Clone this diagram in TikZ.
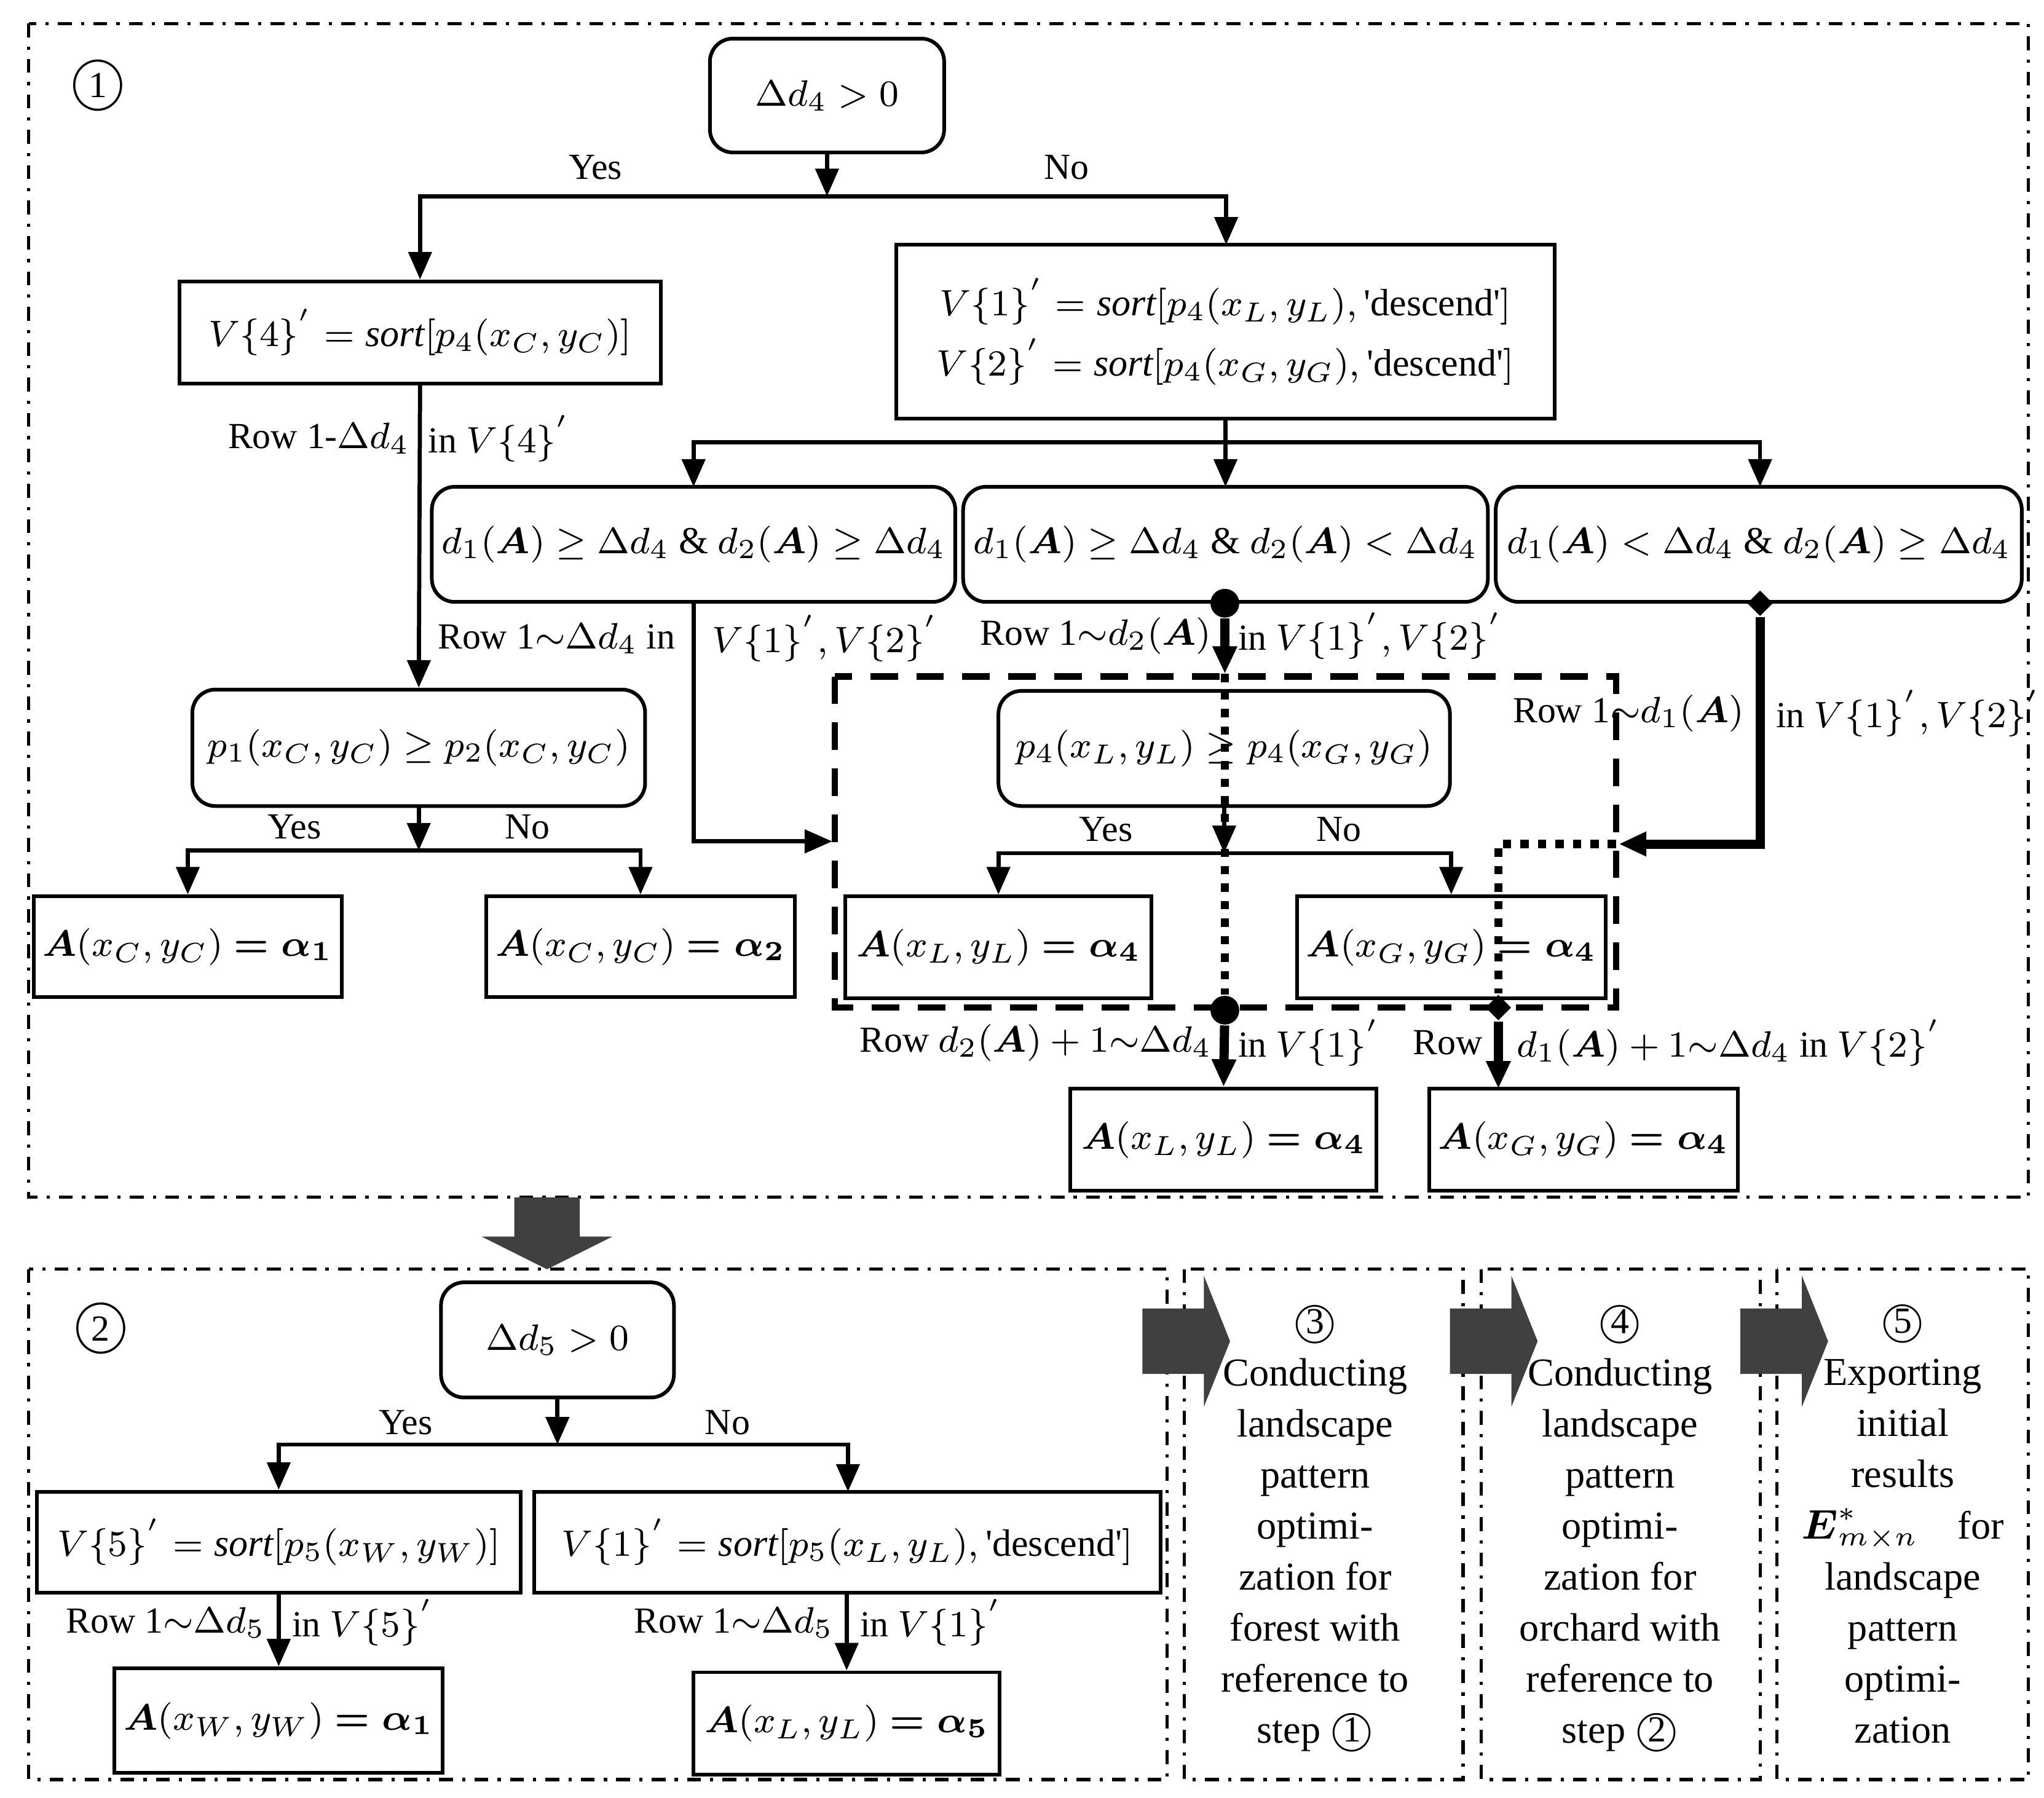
\documentclass[tikz,border=0pt]{standalone}
\usepackage{amsmath,amssymb}
\usepackage{fontspec}
\setmainfont{Liberation Serif}
\usetikzlibrary{arrows.meta,shapes.geometric}
\tikzset{
	% arrow tip
	>={Triangle[length=6pt,width=5pt]},
	% boxes
	box/.style={rectangle, draw=black, line width=0.8pt, inner sep=2pt, font=\fontsize{8.3}{10}\selectfont},
	rbox/.style={box, rounded corners=5pt},
	frame/.style={draw=black, line width=0.7pt, dash dot},
	arr/.style={->, line width=0.9pt},
	tarr/.style={->, line width=2pt},
	lbl/.style={font=\fontsize{8}{10}\selectfont, inner sep=1pt},
	txt/.style={font=\fontsize{8.6}{11.1}\selectfont, align=center},
	big/.style={fill=black!75, draw=none}
}
\newcommand{\bA}{\boldsymbol{A}}
\newcommand{\desc}{\text{\textquotesingle descend\textquotesingle}}
\begin{document}
\begin{tikzpicture}
\useasboundingbox (0,0) rectangle (15.62,-13.74);
% frames
\draw[frame] (0.22,-0.18) rectangle (15.5,-9.15);
\draw[frame] (0.22,-9.70) rectangle (8.92,-13.60);
\draw[frame] (9.05,-9.70) rectangle (11.18,-13.60);
\draw[frame] (11.32,-9.70) rectangle (13.45,-13.60);
\draw[frame] (13.58,-9.70) rectangle (15.5,-13.60);
\node[font=\fontsize{12}{12}\selectfont] (c1) at (0.75,-0.70) {\textcircled{\footnotesize 1}};
\node[font=\fontsize{12}{12}\selectfont] (c2) at (0.77,-10.20) {\textcircled{\footnotesize 2}};

% step 1
\node[rbox, minimum width=1.79cm, minimum height=0.87cm] (d4) at (6.32,-0.73) {$\Delta d_4>0$};
\node[box, minimum width=3.68cm, minimum height=0.78cm] (v4) at (3.21,-2.54) {$V\{4\}^{'}=\mathit{sort}[p_4(x_C,y_C)]$};
\node[box, minimum width=5.03cm, minimum height=1.33cm, align=center] (v12) at (9.365,-2.535)
	{$V\{1\}^{'}=\mathit{sort}[p_4(x_L,y_L),\desc]$\\[2pt]$V\{2\}^{'}=\mathit{sort}[p_4(x_G,y_G),\desc]$};
\draw[arr] (d4.south) -- (6.32,-1.50) coordinate (b1);
\draw[arr] (b1) -| (v4.north);
\draw[arr] (b1) -| (9.37,-1.87);
\node[lbl] (yes1) at (4.55,-1.28) {Yes};
\node[lbl] (no1) at (8.15,-1.28) {No};

\node[rbox, minimum width=4.0cm, minimum height=0.88cm] (ca) at (5.30,-4.16) {$d_1(\bA)\geq\Delta d_4\ \&\ d_2(\bA)\geq\Delta d_4$};
\node[rbox, minimum width=4.01cm, minimum height=0.88cm] (cb) at (9.365,-4.16) {$d_1(\bA)\geq\Delta d_4\ \&\ d_2(\bA)<\Delta d_4$};
\node[rbox, minimum width=4.02cm, minimum height=0.88cm] (cc) at (13.44,-4.16) {$d_1(\bA)<\Delta d_4\ \&\ d_2(\bA)\geq\Delta d_4$};
\draw[line width=0.9pt] (v12.south) -- (9.365,-3.38) coordinate (b2);
\draw[arr] (b2) -| (5.30,-3.72);
\draw[arr] (b2) -- (9.365,-3.72);
\draw[arr] (b2) -| (13.45,-3.72);

\node[rbox, minimum width=3.46cm, minimum height=0.89cm] (p1) at (3.20,-5.715) {$p_1(x_C,y_C)\geq p_2(x_C,y_C)$};
\draw[arr] (v4.south) -- (p1.north);
\node[lbl, anchor=east] (r1) at (3.17,-3.35) {Row 1-$\Delta d_4$};
\node[lbl, anchor=west] (r1b) at (3.23,-3.35) {in $V\{4\}^{'}$};
\node[box, minimum width=2.33cm, minimum height=0.77cm] (ac1) at (1.435,-7.235) {$\bA(x_C,y_C)\boldsymbol{=\alpha_1}$};
\node[box, minimum width=2.33cm, minimum height=0.77cm] (ac2) at (4.895,-7.235) {$\bA(x_C,y_C)\boldsymbol{=\alpha_2}$};
\draw[arr] (p1.south) -- (3.20,-6.50) coordinate (b3);
\draw[arr] (b3) -| (ac1.north);
\draw[arr] (b3) -| (ac2.north);
\node[lbl] (yes2) at (2.25,-6.32) {Yes};
\node[lbl] (no2) at (4.03,-6.32) {No};

% dashed region
\draw[line width=1.4pt, dash pattern=on 6pt off 4pt] (6.38,-5.17) rectangle (12.35,-7.70);
\node[rbox, minimum width=3.45cm, minimum height=0.88cm] (p4) at (9.355,-5.72) {$p_4(x_L,y_L)\geq p_4(x_G,y_G)$};
\node[box, minimum width=2.34cm, minimum height=0.78cm] (al4) at (7.63,-7.24) {$\bA(x_L,y_L)\boldsymbol{=\alpha_4}$};
\node[box, minimum width=2.34cm, minimum height=0.78cm] (ag4) at (11.09,-7.24) {$\bA(x_G,y_G)\boldsymbol{=\alpha_4}$};
\draw[arr] (p4.south) -- (9.355,-6.52) coordinate (b4);
\draw[arr] (b4) -| (al4.north);
\draw[arr] (b4) -| (ag4.north);
\node[lbl] (yes3) at (8.45,-6.34) {Yes};
\node[lbl] (no3) at (10.23,-6.34) {No};

% case a
\coordinate (ea) at (6.36,-6.43);
\draw[arr] (ca.south -| 5.30,0) -- (5.30,-6.43) -- (ea);
\node[lbl, anchor=east] (ra) at (5.20,-4.88) {Row 1$\sim$$\Delta d_4$ in};
\node[lbl, anchor=west] (rab) at (5.40,-4.88) {$V\{1\}^{'},V\{2\}^{'}$};

% case b
\node[circle, fill=black, inner sep=0pt, minimum size=0.22cm] (db1) at (9.36,-4.61) {};
\node[circle, fill=black, inner sep=0pt, minimum size=0.22cm] (db2) at (9.36,-7.72) {};
\draw[tarr] (db1) -- (9.36,-5.15);
\draw[line width=1.8pt, dotted] (9.36,-5.15) -- (db2);
\node[lbl, anchor=east] (rb) at (9.30,-4.86) {Row 1$\sim$$d_2(\bA)$};
\node[lbl, anchor=west] (rbb) at (9.42,-4.86) {in $V\{1\}^{'},V\{2\}^{'}$};
\node[box, minimum width=2.34cm, minimum height=0.78cm] (bl4) at (9.35,-8.71) {$\bA(x_L,y_L)\boldsymbol{=\alpha_4}$};
\draw[tarr] (db2) -- (bl4.north);
\node[lbl, anchor=east] (rc) at (9.30,-7.97) {Row $d_2(\bA)+1$$\sim$$\Delta d_4$};
\node[lbl, anchor=west] (rcb) at (9.42,-7.97) {in $V\{1\}^{'}$};

% case c
\node[diamond, fill=black, inner sep=0pt, minimum size=0.2cm] (dc1) at (13.45,-4.61) {};
\node[diamond, fill=black, inner sep=0pt, minimum size=0.2cm] (dc2) at (11.45,-7.70) {};
\draw[tarr] (dc1) -- (13.45,-6.45) -- (12.37,-6.45);
\draw[line width=1.8pt, dotted] (12.35,-6.45) -- (11.45,-6.45) -- (dc2);
\node[lbl, anchor=east] (rd) at (13.37,-5.45) {Row 1$\sim$$d_1(\bA)$};
\node[lbl, anchor=west] (rdb) at (13.53,-5.45) {in $V\{1\}^{'},V\{2\}^{'}$};
\node[box, minimum width=2.34cm, minimum height=0.78cm] (bg4) at (12.10,-8.71) {$\bA(x_G,y_G)\boldsymbol{=\alpha_4}$};
\draw[tarr] (dc2) -- (11.45,-8.32);
\node[lbl, anchor=east] (re) at (11.37,-7.97) {Row};
\node[lbl, anchor=west] (reb) at (11.55,-7.97) {$d_1(\bA)+1$$\sim$$\Delta d_4$ in $V\{2\}^{'}$};

% big arrows
\draw[big] (3.93,-9.15) -- (4.43,-9.15) -- (4.43,-9.45) -- (4.68,-9.45) -- (4.18,-9.70) -- (3.68,-9.45) -- (3.93,-9.45) -- cycle;
\foreach \x in {8.73,11.08,13.30}{
	\draw[big] (\x,-10.00) -- (\x+0.47,-10.00) -- (\x+0.47,-9.75) -- (\x+0.67,-10.25) -- (\x+0.47,-10.75) -- (\x+0.47,-10.50) -- (\x,-10.50) -- cycle;
}

% step 2
\node[rbox, minimum width=1.78cm, minimum height=0.88cm] (d5) at (4.26,-10.24) {$\Delta d_5>0$};
\node[box, minimum width=3.70cm, minimum height=0.77cm] (v5) at (2.13,-11.785) {$V\{5\}^{'}=\mathit{sort}[p_5(x_W,y_W)]$};
\node[box, minimum width=4.79cm, minimum height=0.77cm] (v1) at (6.475,-11.785) {$V\{1\}^{'}=\mathit{sort}[p_5(x_L,y_L),\desc]$};
\draw[arr] (d5.south) -- (4.26,-11.04) coordinate (b5);
\draw[arr] (b5) -| (v5.north);
\draw[arr] (b5) -| (6.48,-11.40);
\node[lbl] (yes4) at (3.10,-10.87) {Yes};
\node[lbl] (no4) at (5.56,-10.87) {No};
\node[box, minimum width=2.34cm, minimum height=0.80cm] (aw1) at (2.13,-13.15) {$\bA(x_W,y_W)\boldsymbol{=\alpha_1}$};
\node[box, minimum width=2.34cm, minimum height=0.78cm] (al5) at (6.47,-13.17) {$\bA(x_L,y_L)\boldsymbol{=\alpha_5}$};
\draw[arr] (v5.south -| aw1.north) -- (aw1.north);
\draw[arr] (v1.south -| al5.north) -- (al5.north);
\node[lbl, anchor=east] (rf) at (2.07,-12.40) {Row 1$\sim$$\Delta d_5$};
\node[lbl, anchor=west] (rfb) at (2.19,-12.40) {in $V\{5\}^{'}$};
\node[lbl, anchor=east] (rg) at (6.41,-12.40) {Row 1$\sim$$\Delta d_5$};
\node[lbl, anchor=west] (rgb) at (6.53,-12.40) {in $V\{1\}^{'}$};

% steps 3-5
\node[txt, anchor=north] (s3) at (10.05,-9.88) {\textcircled{\footnotesize 3}\\Conducting\\landscape\\pattern\\optimi-\\zation for\\forest with\\reference to\\step \textcircled{\footnotesize 1}};
\node[txt, anchor=north] (s4) at (12.38,-9.88) {\textcircled{\footnotesize 4}\\Conducting\\landscape\\pattern\\optimi-\\zation for\\orchard with\\reference to\\step \textcircled{\footnotesize 2}};
\node[txt, anchor=north] (s5) at (14.54,-9.88) {\textcircled{\footnotesize 5}\\Exporting\\initial\\results\\$\boldsymbol{E}^{*}_{m\times n}$\quad for\\landscape\\pattern\\optimi-\\zation};
\end{tikzpicture}
\end{document}
